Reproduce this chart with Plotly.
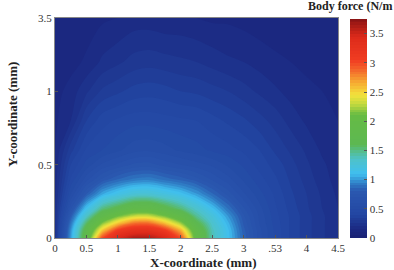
import plotly.graph_objects as go

# grid coordinates (x in mm; y in displayed axis units)
x_mm = [0, 0.25, 0.5, 0.75, 1.0, 1.25, 1.5, 1.75, 2.0, 2.25, 2.5, 2.75, 3.0, 3.25, 3.5, 3.75, 4.0, 4.25, 4.5]
y_pos = [0, 0.05, 0.1, 0.15, 0.2, 0.3, 0.4, 0.5, 0.6, 0.8, 1.0, 1.2, 1.5]

# body force values (one list per y row)
row_000 = [0.22, 1.01, 1.81, 3.00, 3.45, 3.63, 3.63, 3.46, 3.00, 1.94, 1.39, 1.13, 0.84, 0.62, 0.49, 0.39, 0.32, 0.26, 0.20]
row_005 = [0.20, 0.98, 1.74, 2.56, 3.13, 3.32, 3.33, 3.13, 2.66, 1.86, 1.38, 1.12, 0.82, 0.62, 0.49, 0.39, 0.32, 0.26, 0.20]
row_010 = [0.20, 0.90, 1.55, 2.16, 2.56, 2.85, 2.87, 2.59, 2.22, 1.66, 1.32, 1.07, 0.79, 0.60, 0.48, 0.39, 0.32, 0.26, 0.20]
row_015 = [0.20, 0.80, 1.33, 1.78, 2.10, 2.30, 2.31, 2.12, 1.84, 1.46, 1.24, 1.00, 0.76, 0.59, 0.47, 0.39, 0.32, 0.26, 0.20]
row_020 = [0.20, 0.69, 1.13, 1.50, 1.67, 1.84, 1.85, 1.69, 1.52, 1.32, 1.12, 0.90, 0.71, 0.57, 0.46, 0.38, 0.31, 0.25, 0.20]
row_030 = [0.18, 0.55, 0.80, 1.04, 1.17, 1.27, 1.28, 1.21, 1.13, 1.01, 0.86, 0.73, 0.61, 0.52, 0.44, 0.36, 0.30, 0.24, 0.19]
row_040 = [0.17, 0.46, 0.63, 0.76, 0.85, 0.91, 0.93, 0.88, 0.83, 0.77, 0.69, 0.62, 0.54, 0.47, 0.41, 0.34, 0.28, 0.22, 0.18]
row_050 = [0.16, 0.40, 0.52, 0.61, 0.66, 0.71, 0.72, 0.68, 0.65, 0.62, 0.59, 0.54, 0.49, 0.43, 0.38, 0.32, 0.26, 0.21, 0.17]
row_060 = [0.15, 0.33, 0.46, 0.50, 0.54, 0.58, 0.59, 0.57, 0.54, 0.52, 0.49, 0.47, 0.44, 0.40, 0.34, 0.29, 0.24, 0.19, 0.16]
row_080 = [0.14, 0.20, 0.35, 0.43, 0.46, 0.48, 0.48, 0.47, 0.46, 0.45, 0.42, 0.39, 0.36, 0.32, 0.28, 0.23, 0.19, 0.17, 0.15]
row_100 = [0.13, 0.17, 0.24, 0.31, 0.34, 0.37, 0.38, 0.37, 0.35, 0.34, 0.32, 0.30, 0.27, 0.24, 0.21, 0.18, 0.16, 0.15, 0.14]
row_120 = [0.12, 0.13, 0.16, 0.21, 0.24, 0.27, 0.28, 0.27, 0.26, 0.25, 0.23, 0.21, 0.20, 0.18, 0.16, 0.15, 0.14, 0.13, 0.12]
row_150 = [0.10, 0.11, 0.12, 0.14, 0.15, 0.17, 0.17, 0.16, 0.16, 0.15, 0.14, 0.14, 0.13, 0.12, 0.12, 0.11, 0.11, 0.10, 0.10]

x_tickvals = [0, 0.5, 1, 1.5, 2, 2.5, 3, 3.5, 4, 4.5]
x_ticktext = ["0", "0.5", "1", "1.5", "2", "2.5", "3", ".53", "4", "4.5"]
y_tickvals = [0, 0.5, 1, 1.5]
y_ticktext = ["0", "0.5", "1", "3.5"]
cbar_ticks = [0, 0.5, 1, 1.5, 2, 2.5, 3, 3.5]

z = [row_000, row_005, row_010, row_015, row_020, row_030, row_040, row_050,
     row_060, row_080, row_100, row_120, row_150]

cmax = 3.75
stops = [
    (0.00, "#1a2274"), (0.15, "#1b2982"), (0.40, "#2246a2"), (0.80, "#2a58b0"),
    (0.95, "#3082c8"), (1.10, "#40bff0"), (1.35, "#4ec2c8"), (1.60, "#5cb852"),
    (2.10, "#66bb44"), (2.30, "#c4da3e"), (2.45, "#f3e23c"), (2.65, "#f6ac32"),
    (2.85, "#f4702c"), (3.05, "#f03c22"), (3.45, "#dc2a1a"), (3.75, "#8c1414"),
]
colorscale = [[v / cmax, c] for v, c in stops]

serif = "Liberation Serif"
L, R, T, B = 55, 56, 18, 32
W, H = 394, 270
pw, ph = W - L - R, H - T - B

fig = go.Figure()
fig.add_trace(go.Contour(
    x=x_mm, y=y_pos, z=z,
    colorscale=colorscale, zmin=0, zmax=cmax,
    contours=dict(start=0, end=cmax, size=0.05, coloring="fill", showlines=False),
    line=dict(width=0, smoothing=0.9),
    colorbar=dict(
        x=(350 - L) / pw, xanchor="left", y=(H - B - 238) / ph, yanchor="bottom",
        len=(238 - 19) / ph, lenmode="fraction",
        thickness=17, outlinewidth=0, ticks="inside", ticklen=3, tickcolor="#555",
        tickvals=cbar_ticks, ticktext=[f"{t:g}" for t in cbar_ticks],
        tickfont=dict(family=serif, size=11, color="#333"),
        xpad=0, ypad=0,
    ),
))


def px_to_paper(px, py):
    return (px - L) / pw, (H - B - py) / ph


ax, ay = px_to_paper(203, 262)
bx, by = px_to_paper(12, 115)
cx, cy = px_to_paper(394, 6)

fig.update_layout(
    width=W, height=H,
    margin=dict(l=L, r=R, t=T, b=B, autoexpand=False),
    paper_bgcolor="white", plot_bgcolor="white",
    font=dict(family=serif, size=11, color="#333"),
    xaxis=dict(range=[0, 4.5], tickvals=x_tickvals, ticktext=x_ticktext,
               ticks="inside", ticklen=3, tickcolor="#555", showgrid=False, zeroline=False,
               showline=True, linecolor="#888", linewidth=1, mirror=True,
               tickfont=dict(family=serif, size=11, color="#333")),
    yaxis=dict(range=[0, 1.5], tickvals=y_tickvals, ticktext=y_ticktext,
               ticks="inside", ticklen=3, tickcolor="#555", showgrid=False, zeroline=False,
               showline=True, linecolor="#888", linewidth=1, mirror=True,
               tickfont=dict(family=serif, size=11, color="#333")),
    annotations=[
        dict(text="<b>X-coordinate (mm)</b>", x=ax, y=ay, xref="paper", yref="paper",
             xanchor="center", yanchor="middle",
             showarrow=False, font=dict(family=serif, size=13, color="#222")),
        dict(text="<b>Y-coordinate (mm)</b>", x=bx, y=by, xref="paper", yref="paper",
             xanchor="center", yanchor="middle",
             textangle=-90, showarrow=False, font=dict(family=serif, size=13, color="#222")),
        dict(text="<b>Body force (N/m</b>", x=cx, y=cy, xref="paper", yref="paper",
             xanchor="right", yanchor="middle",
             showarrow=False, font=dict(family=serif, size=12, color="#222")),
    ],
)

fig.write_html("out.html")
